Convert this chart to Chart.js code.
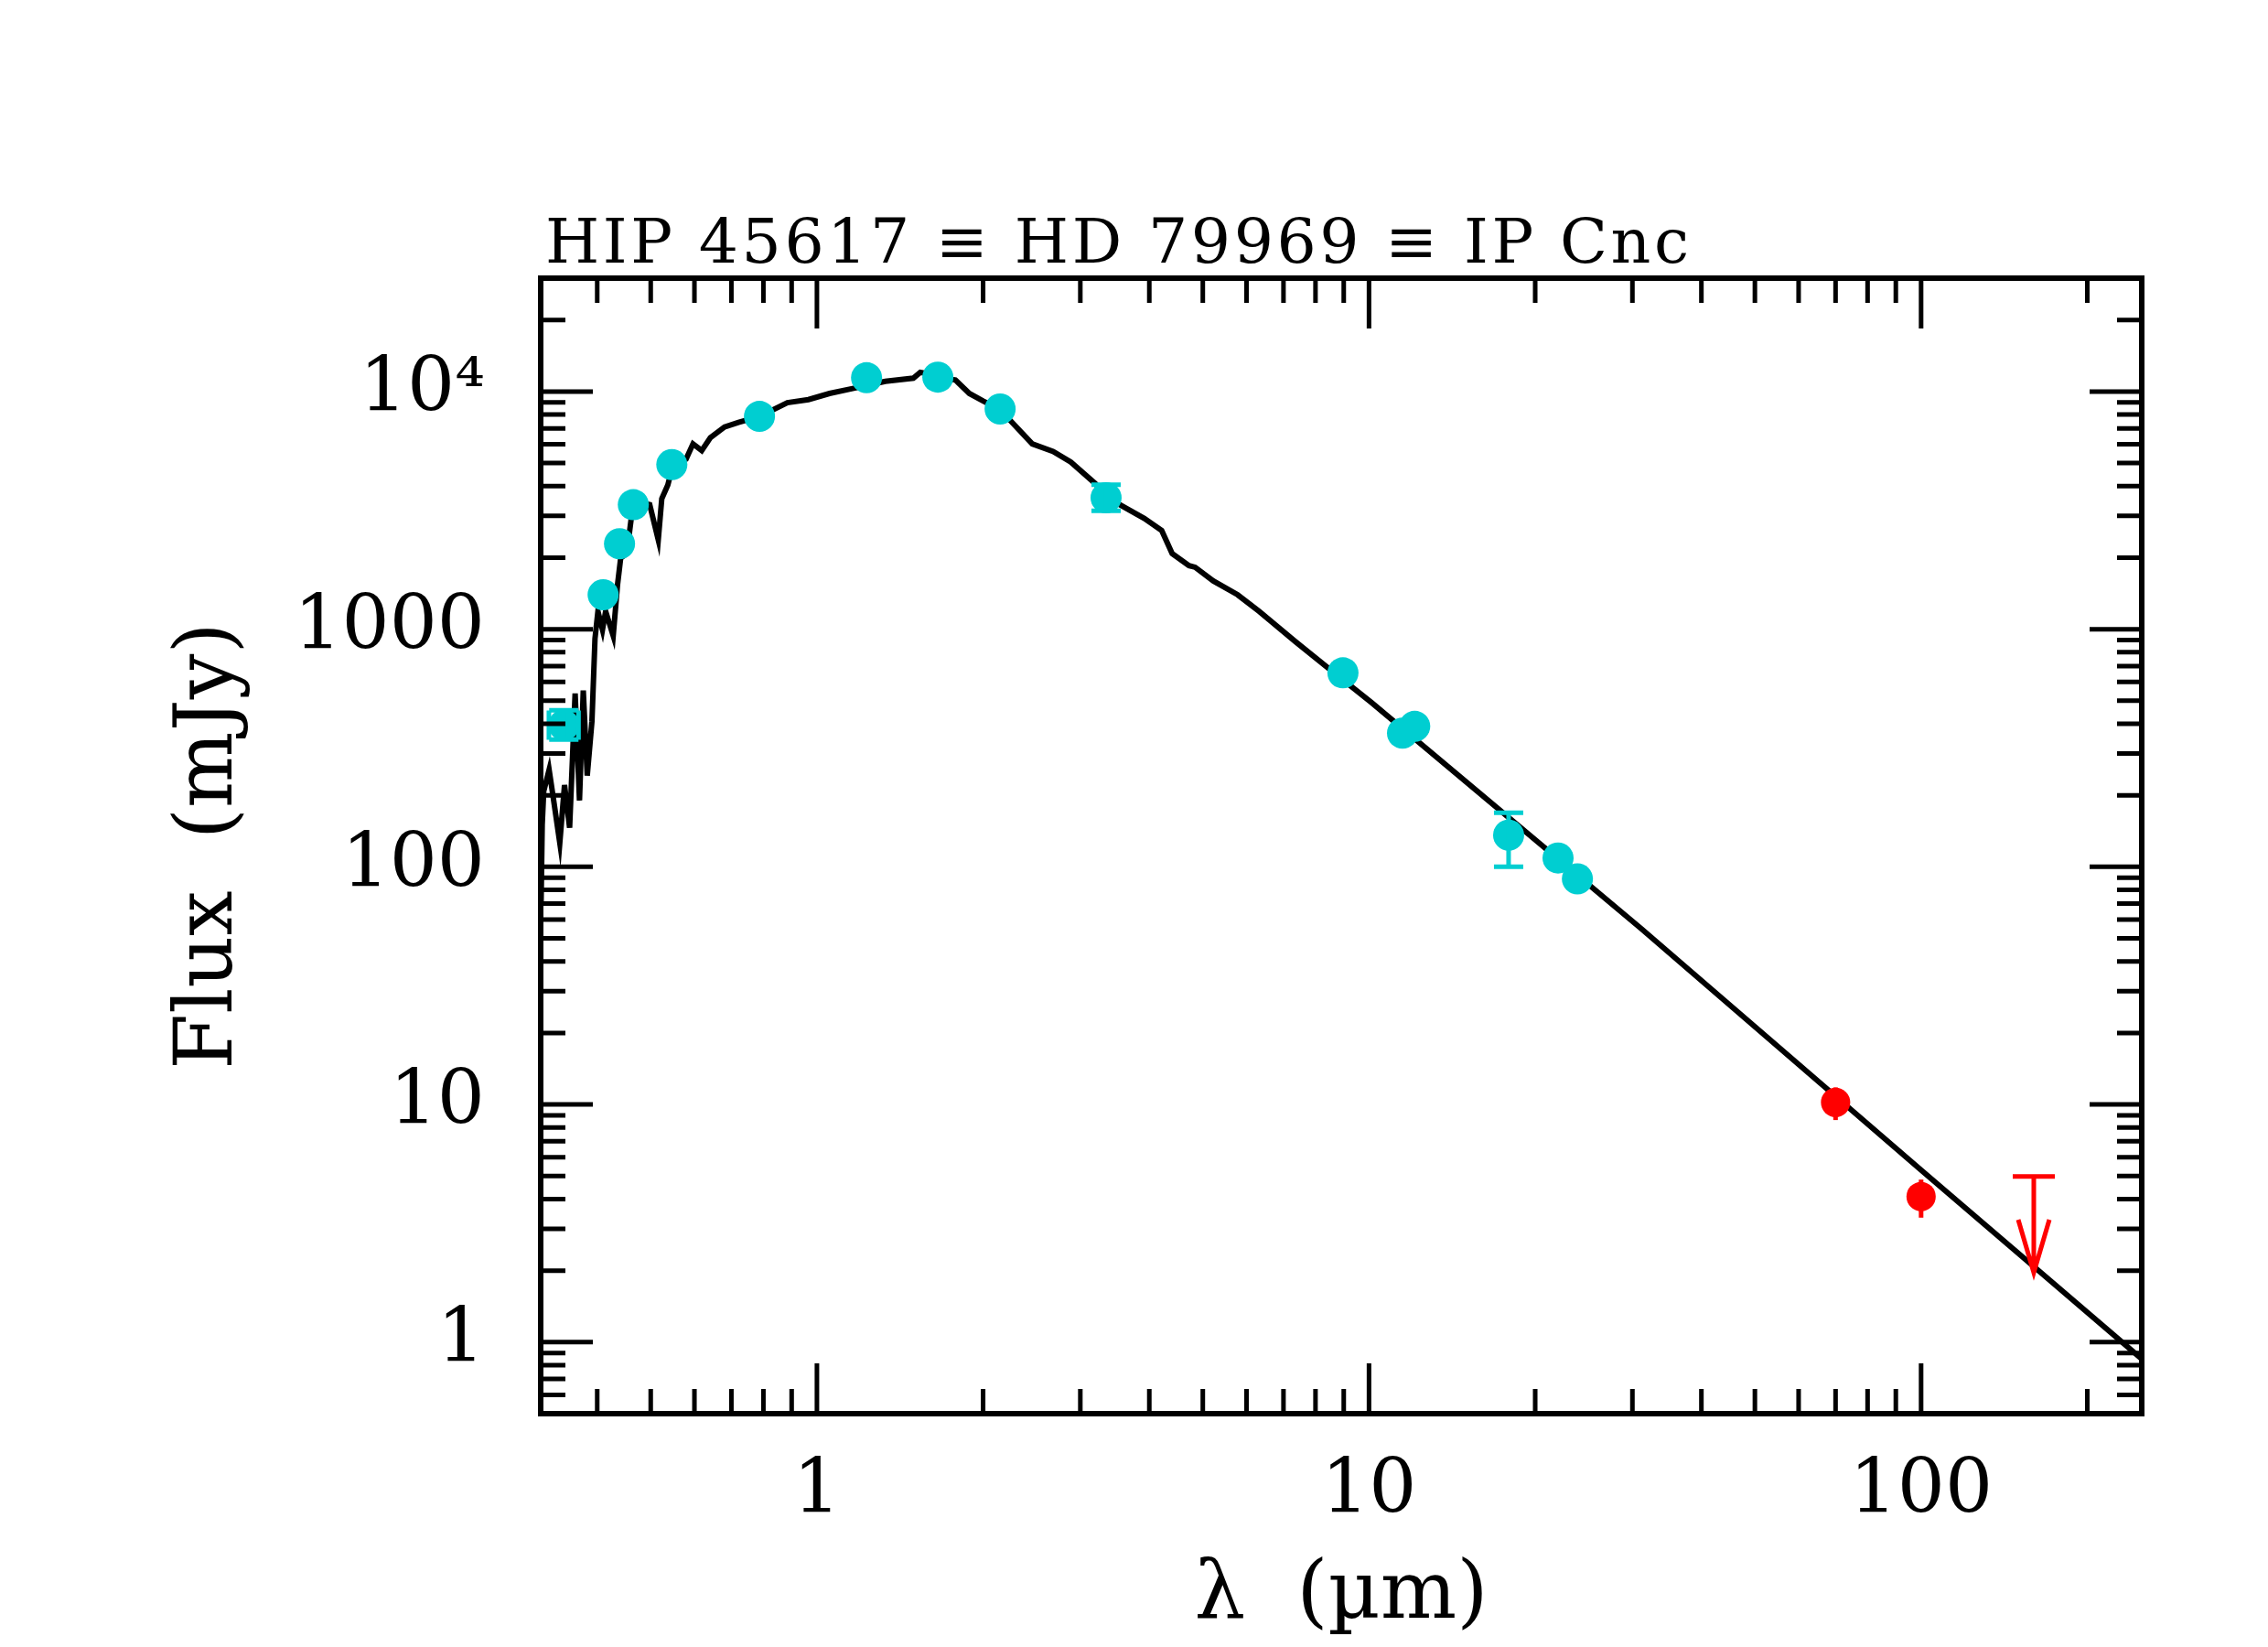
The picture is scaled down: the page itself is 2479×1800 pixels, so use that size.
<!DOCTYPE html>
<html>
<head>
<meta charset="utf-8">
<script src="https://cdn.jsdelivr.net/npm/chart.js@4.4.1/dist/chart.umd.min.js"></script>
<style>
html, body { margin: 0; padding: 0; background: #fff; }
canvas { display: block; }
</style>
</head>
<body>
<canvas id="sed" width="2479" height="1800"></canvas>
<script>
const plotTitle = 'HIP 45617 \u2261 HD 79969 \u2261 IP Cnc';

// model spectrum (um, mJy)
const modelWave = [0.3165, 0.318, 0.320, 0.3273, 0.3336, 0.3422, 0.349, 0.3565, 0.3648, 0.3715,
  0.3774, 0.3837, 0.3913, 0.3963, 0.4012, 0.4089, 0.4143, 0.4276, 0.4355, 0.4412,
  0.4525, 0.4613, 0.4732, 0.4979, 0.516, 0.5236, 0.537, 0.546, 0.5794, 0.5964,
  0.6186, 0.6412, 0.6802, 0.7211, 0.787, 0.884, 0.9652, 1.054, 1.15, 1.23,
  1.33, 1.495, 1.539, 1.585, 1.656, 1.782, 1.888, 2.002, 2.147, 2.284,
  2.455, 2.679, 2.883, 3.192, 3.34, 3.917, 4.212, 4.4, 4.72, 4.842,
  5.224, 5.781, 6.324, 7.362, 8.356, 10.12, 31.1, 100, 251];
const modelFlux = [70, 150, 208, 256, 190, 126, 221, 146, 536, 190,
  552, 242, 410, 912, 1189, 995, 1189, 938, 1549, 1995,
  2080, 2965, 3443, 3342, 2377, 3540, 4046, 4700, 5200, 6026,
  5649, 6397, 7096, 7413, 7850, 8974, 9247, 9817, 10250, 10600,
  11040, 11380, 12050, 11890, 11500, 11190, 9817, 9120, 8400, 7194,
  6026, 5598, 5047, 4102, 3600, 2924, 2600, 2080, 1850, 1823,
  1596, 1396, 1189, 885, 698, 490, 55, 5.3, 0.85];

// photometry (cyan)
const photWave = [0.348, 0.410, 0.439, 0.465, 0.546, 0.787, 1.23, 1.656, 2.147, 3.34,
  8.97, 11.5, 12.1, 17.9, 22.0, 23.85];
const photFlux = [395, 1397, 2290, 3340, 4930, 7860, 11430, 11500, 8440, 3575,
  655, 365, 390, 136, 109, 89];
const photLo = [343, null, null, null, null, null, null, null, null, 3150,
  null, null, null, 100, null, null];
const photHi = [456, null, null, null, null, null, null, null, null, 4050,
  null, null, null, 169, null, null];
const photXLo = [0.327, null, null, null, null, null, null, null, null, null,
  null, null, null, null, null, null];
const photXHi = [0.370, null, null, null, null, null, null, null, null, null,
  null, null, null, null, null, null];

// far-IR photometry (red)
const firWave = [70, 100];
const firFlux = [10.2, 4.1];
const firLo = [8.6, 3.34];
const firHi = [11.8, 4.83];

// upper limit
const ulWave = [160];
const ulFlux = [4.98];
const ulTip = [1.96];

const xMin = 0.316, xMax = 251;
const yMin = 0.5, yMax = 30000;
const xTickVals = [1, 10, 100];
const xTickLabels = ['1', '10', '100'];
const yTickVals = [1, 10, 100, 1000, 10000];
const yTickLabels = ['1', '10', '100', '1000', '10\u2074'];

const cyan = 'rgb(0,206,209)';
const red = 'rgb(255,0,0)';
const serif = '"DejaVu Serif", "Liberation Serif", serif';

const pts = (xs, ys) => xs.map((x, i) => ({ x: x, y: ys[i] }));

const errorBars = {
  id: 'errorBars',
  afterDatasetsDraw(chart) {
    const { ctx } = chart;
    const xs = chart.scales.x, ys = chart.scales.y;
    ctx.save();
    ctx.lineWidth = 5;
    ctx.lineCap = 'butt';
    // cyan errors with caps
    ctx.strokeStyle = cyan;
    photWave.forEach((w, i) => {
      const px = xs.getPixelForValue(w), py = ys.getPixelForValue(photFlux[i]);
      if (photLo[i] != null) {
        const a = ys.getPixelForValue(photLo[i]), b = ys.getPixelForValue(photHi[i]);
        ctx.beginPath();
        ctx.moveTo(px, a); ctx.lineTo(px, b);
        ctx.moveTo(px - 16, a); ctx.lineTo(px + 16, a);
        ctx.moveTo(px - 16, b); ctx.lineTo(px + 16, b);
        ctx.stroke();
      }
      if (photXLo[i] != null) {
        const a = xs.getPixelForValue(photXLo[i]), b = xs.getPixelForValue(photXHi[i]);
        ctx.beginPath();
        ctx.moveTo(a, py); ctx.lineTo(b, py);
        ctx.moveTo(a, py - 16); ctx.lineTo(a, py + 16);
        ctx.moveTo(b, py - 16); ctx.lineTo(b, py + 16);
        ctx.stroke();
      }
    });
    // red errors, no caps
    ctx.strokeStyle = red;
    firWave.forEach((w, i) => {
      const px = xs.getPixelForValue(w);
      ctx.beginPath();
      ctx.moveTo(px, ys.getPixelForValue(firLo[i]));
      ctx.lineTo(px, ys.getPixelForValue(firHi[i]));
      ctx.stroke();
    });
    // upper limit arrow
    ulWave.forEach((w, i) => {
      const px = xs.getPixelForValue(w);
      const top = ys.getPixelForValue(ulFlux[i]);
      const tip = ys.getPixelForValue(ulTip[i]);
      const wing = tip - (tip - top) * 0.55;
      ctx.beginPath();
      ctx.moveTo(px - 23, top); ctx.lineTo(px + 23, top);
      ctx.moveTo(px, top); ctx.lineTo(px, tip);
      ctx.moveTo(px - 17, wing); ctx.lineTo(px, tip); ctx.lineTo(px + 17, wing);
      ctx.stroke();
    });
    ctx.restore();
  }
};

const frameTicks = {
  id: 'frameTicks',
  afterDatasetsDraw(chart) {
    const { ctx, chartArea: a } = chart;
    const xs = chart.scales.x, ys = chart.scales.y;
    ctx.save();
    ctx.strokeStyle = '#000';
    ctx.lineWidth = 5;
    for (let d = -1; d <= 2; d++) {
      for (let m = 1; m <= 9; m++) {
        const v = m * Math.pow(10, d);
        if (v < xs.min || v > xs.max) continue;
        const p = xs.getPixelForValue(v);
        const len = m === 1 ? 55 : 27;
        ctx.beginPath();
        ctx.moveTo(p, a.bottom); ctx.lineTo(p, a.bottom - len);
        ctx.moveTo(p, a.top); ctx.lineTo(p, a.top + len);
        ctx.stroke();
      }
    }
    for (let d = -1; d <= 4; d++) {
      for (let m = 1; m <= 9; m++) {
        const v = m * Math.pow(10, d);
        if (v < ys.min || v > ys.max) continue;
        const p = ys.getPixelForValue(v);
        const len = m === 1 ? 57 : 27;
        ctx.beginPath();
        ctx.moveTo(a.left, p); ctx.lineTo(a.left + len, p);
        ctx.moveTo(a.right, p); ctx.lineTo(a.right - len, p);
        ctx.stroke();
      }
    }
    ctx.lineWidth = 6;
    ctx.strokeRect(a.left, a.top, a.right - a.left, a.bottom - a.top);
    ctx.restore();
  }
};

const titleText = {
  id: 'titleText',
  afterDraw(chart) {
    const { ctx, chartArea } = chart;
    ctx.save();
    ctx.font = '68px ' + serif;
    ctx.fillStyle = '#000';
    ctx.textBaseline = 'alphabetic';
    const w0 = ctx.measureText(plotTitle).width;
    ctx.letterSpacing = Math.max(0, (1250 - w0) / (plotTitle.length - 1)) + 'px';
    ctx.fillText(plotTitle, chartArea.left + 5, chartArea.top - 17);
    ctx.restore();
  }
};

const fixRange = (lo, hi) => s => { s.min = lo; s.max = hi; };

new Chart(document.getElementById('sed').getContext('2d'), {
  type: 'scatter',
  data: {
    datasets: [
      {
        label: 'Photometry',
        data: pts(photWave, photFlux),
        backgroundColor: cyan,
        borderWidth: 0,
        pointRadius: 17
      },
      {
        label: 'Far-IR',
        data: pts(firWave, firFlux),
        backgroundColor: red,
        borderWidth: 0,
        pointRadius: 16
      },
      {
        label: 'Model',
        data: pts(modelWave, modelFlux),
        showLine: true,
        borderColor: '#000',
        borderWidth: 6,
        pointRadius: 0,
        tension: 0
      }
    ]
  },
  options: {
    responsive: false,
    animation: false,
    devicePixelRatio: 1,
    layout: { padding: { top: 304, right: 138, left: 0, bottom: 0 } },
    plugins: {
      legend: { display: false },
      tooltip: { enabled: false },
      title: { display: false }
    },
    scales: {
      x: {
        type: 'logarithmic',
        bounds: 'data',
        min: xMin,
        max: xMax,
        grid: { display: false },
        border: { display: false },
        afterFit: s => { s.height = 255; },
        afterBuildTicks: s => {
          s.ticks = xTickVals.map(v => ({ value: v }));
          fixRange(xMin, xMax)(s);
        },
        ticks: {
          autoSkip: false,
          maxRotation: 0,
          padding: 30,
          color: '#000',
          font: { family: serif, size: 82 },
          callback: v => xTickLabels[xTickVals.indexOf(v)]
        },
        title: {
          display: true,
          text: '\u03bb  (\u00b5m)',
          color: '#000',
          font: { family: serif, size: 88 },
          padding: { top: 0, bottom: 2 }
        }
      },
      y: {
        type: 'logarithmic',
        bounds: 'data',
        min: yMin,
        max: yMax,
        grid: { display: false },
        border: { display: false },
        afterFit: s => { s.width = 591; },
        afterBuildTicks: s => {
          s.ticks = yTickVals.map(v => ({ value: v }));
          fixRange(yMin, yMax)(s);
        },
        ticks: {
          autoSkip: false,
          padding: 53,
          color: '#000',
          font: { family: serif, size: 82 },
          callback: v => yTickLabels[yTickVals.indexOf(v)]
        },
        title: {
          display: true,
          text: 'Flux  (mJy)',
          color: '#000',
          font: { family: serif, size: 88 },
          padding: { top: 177, bottom: 0 }
        }
      }
    }
  },
  plugins: [errorBars, frameTicks, titleText]
});
</script>
</body>
</html>
